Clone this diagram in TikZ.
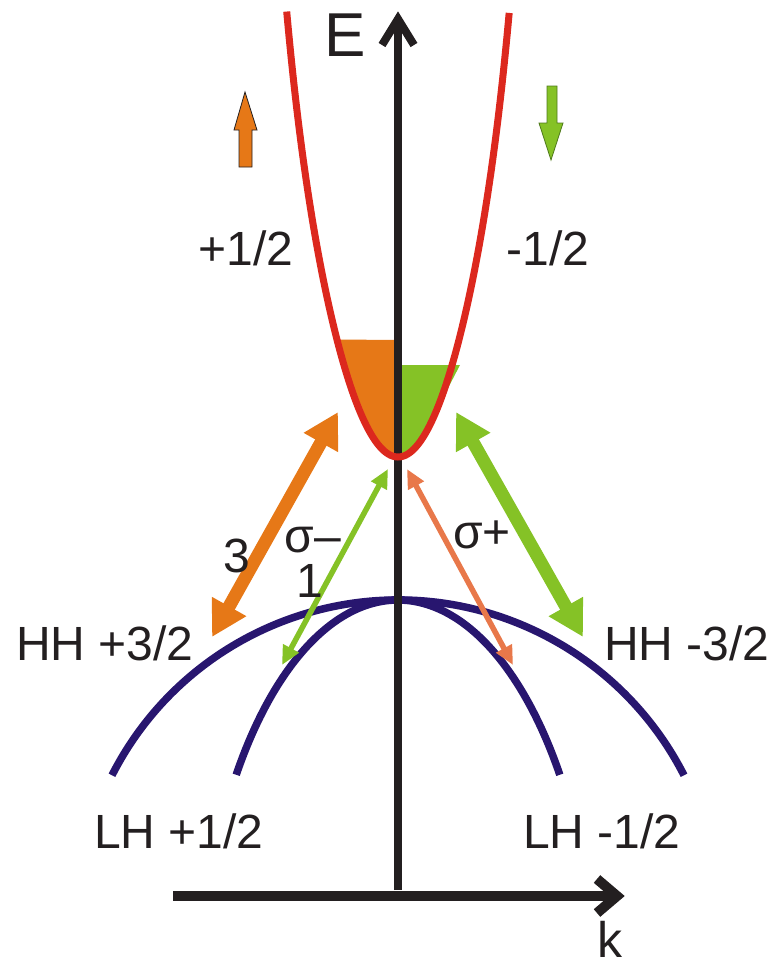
\documentclass[tikz,border=0pt]{standalone}
\usepackage{fontspec}
\setmainfont{Liberation Sans}
\usetikzlibrary{arrows.meta}
\definecolor{cred}{HTML}{DC281E}
\definecolor{corange}{HTML}{E67817}
\definecolor{cgreen}{HTML}{85C226}
\definecolor{csalmon}{HTML}{E8784A}
\definecolor{cnavy}{HTML}{28166F}
\definecolor{cblack}{HTML}{231F20}
\definecolor{colive}{HTML}{4F7A1C}
\tikzset{
  lbl/.style={inner sep=0pt, anchor=base, text=cblack, font=\fontsize{48}{48}\selectfont},
  biglbl/.style={inner sep=0pt, anchor=base, text=cblack, font=\fontsize{62}{62}\selectfont},
  axisline/.style={draw=cblack, line cap=butt, line join=miter},
  band/.style={draw=cnavy, line width=7.5pt},
  thickarr/.style={line width=13pt, {Triangle[length=35pt,width=37pt]}-{Triangle[length=35pt,width=37pt]}},
  thinarr/.style={line width=5.5pt, {Triangle[length=19pt,width=17pt]}-{Triangle[length=19pt,width=17pt]}}
}
\begin{document}
\begin{tikzpicture}[x=1pt,y=-1pt]
\useasboundingbox (0,0) rectangle (769,969);
% hole bands
\draw[band] (398,921) ++(207:321) arc[start angle=207, end angle=333, radius=321];
\draw[band] (398,1024) ++(216:200 and 424) arc[start angle=216, end angle=324, x radius=200, y radius=424];
% filled states
\fill[corange] (398,340) -- plot[domain=-0.6105:0, samples=40] ({398+100*\x},{457-314*\x*\x*(1+0.0764*(\x*\x)^3)}) -- cycle;
\fill[cgreen] (398,365) -- (460,365) -- (446,392) -- plot[domain=0.455:0, samples=40] ({398+100*\x},{457-314*\x*\x*(1+0.0764*(\x*\x)^3)}) -- cycle;
% axes
\draw[axisline, line width=8pt] (398,890) -- (398,19);
\draw[axisline, line width=8pt] (382,45) -- (398,19) -- (414,45);
\draw[axisline, line width=10pt] (173,896) -- (617,896);
\draw[axisline, line width=10pt] (597,879) -- (617,896) -- (597,913);
% conduction band
\draw[cred, line width=7pt] plot[domain=-1.113:1.113, samples=121, smooth] ({398+100*\x},{457-314*\x*\x*(1+0.0764*(\x*\x)^3)});
% transition arrows
\coordinate (oT) at (338,412);
\coordinate (oB) at (212,637);
\coordinate (gT) at (456,412);
\coordinate (gB) at (583,637);
\coordinate (tgT) at (388,469);
\coordinate (tgB) at (282,665);
\coordinate (toT) at (407,469);
\coordinate (toB) at (513,665);
\draw[thickarr, draw=corange, fill=corange] (oT) -- (oB);
\draw[thickarr, draw=cgreen, fill=cgreen] (gT) -- (gB);
\draw[thinarr, draw=cgreen, fill=cgreen] (tgT) -- (tgB);
\draw[thinarr, draw=csalmon, fill=csalmon] (toT) -- (toB);
% spin arrows
\filldraw[fill=corange, draw=cblack, line width=0.8pt] (239,167) -- (239,130) -- (234,130) -- (245,92) -- (257,130) -- (252,130) -- (252,167) -- cycle;
\filldraw[fill=cgreen, draw=colive, line width=0.8pt] (547,86) -- (547,123) -- (539,123) -- (551,160) -- (563,123) -- (557,123) -- (557,86) -- cycle;
% labels
\node[biglbl] (E) at (345,56) {E};
\node[inner sep=0pt, anchor=base, text=cblack, font=\fontsize{50}{50}\selectfont] (k) at (610,957) {k};
\node[lbl] (cp) at (246,265) {+1/2};
\node[lbl] (cm) at (548,265) {-1/2};
\node[lbl] (hhp) at (105,660) {HH +3/2};
\node[lbl] (hhm) at (687,660) {HH -3/2};
\node[lbl] (lhp) at (179,848) {LH +1/2};
\node[lbl] (lhm) at (602,848) {LH -1/2};
\node[lbl] (three) at (237,572) {3};
\node[lbl] (sm) at (313,552) {σ–};
\node[lbl] (one) at (310,597) {1};
\node[lbl] (sp) at (482,548) {σ+};
\end{tikzpicture}
\end{document}
